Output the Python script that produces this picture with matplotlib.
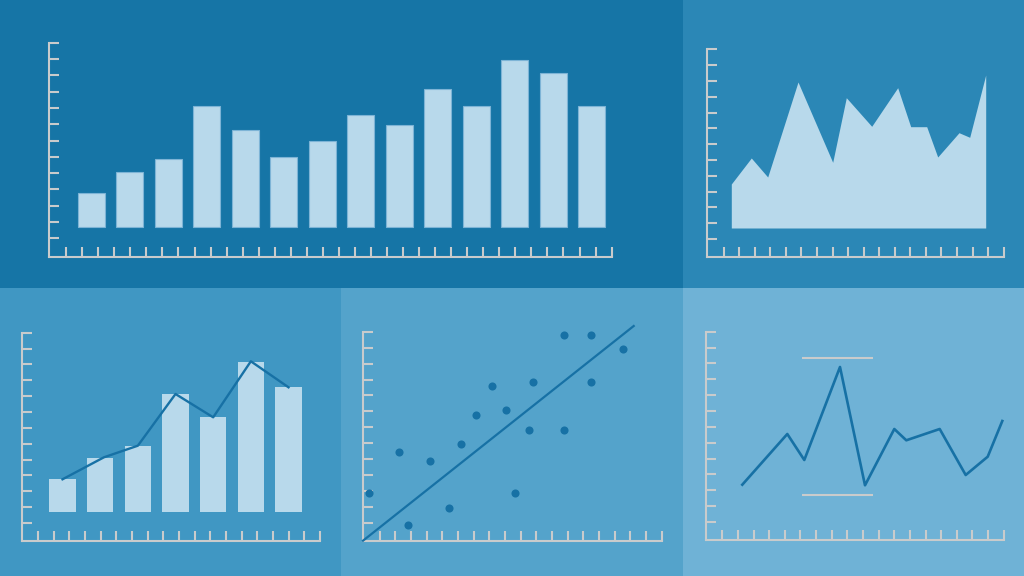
import numpy as np
import matplotlib
matplotlib.use("Agg")
import matplotlib.pyplot as plt
from matplotlib.patches import Rectangle

# ---------------- data ----------------
# top-left bar chart
bar_values = [34, 55.3, 68.3, 121.3, 97.3, 69.7, 85.7, 112.3, 102, 138.3, 121.3, 167, 154.3, 121.3]
# top-right area chart
area_x = [24.3, 44.3, 60.7, 91, 125.7, 139.3, 164.7, 190.7, 203.7, 219.7, 230.7, 252, 262.7, 278.7]
area_y = [44, 70, 51, 146, 65.7, 130.3, 101.7, 140.3, 101.3, 101.3, 71, 95.3, 90.7, 153]
# bottom-left combo chart
combo_bar_values = [33, 53.7, 66, 118, 94.7, 150, 125]
combo_line_pos = [0, 1.1, 2, 3, 4, 5, 6]
combo_line_values = [32.7, 54.7, 66.3, 118, 94.7, 150.7, 124.7]
# bottom-middle scatter
scatter_x = [6, 36.3, 45, 67.3, 86.3, 98.3, 112.7, 128.7, 142.7, 151.7, 166.3, 170.3,
             201.3, 201.3, 228.3, 228.3, 260.3]
scatter_y = [47.4, 88.4, 15.7, 80, 32.7, 97, 126, 154.7, 130.4, 47.7, 110.4, 159,
             206, 110.4, 206, 159, 191.4]
trend_x = [0, 270.7]
trend_y = [0, 214.7]
# bottom-right line chart
line_x = [36.6, 81.6, 98.6, 134.3, 159.3, 188.6, 200.6, 234, 260, 282, 296.6]
line_y = [55.6, 106.3, 80.3, 173.3, 55, 111.3, 100, 111.3, 65.3, 83.6, 119.3]
range_low, range_high = 45.3, 182
range_x = [96.3, 167]

# ---------------- styles ----------------
W, H = 1024, 576
BG = ["#1675a6", "#2b87b6", "#4097c3", "#54a3cb", "#6fb2d6"]
LIGHT = "#b8d9eb"
DARK = "#1771a5"
AX = "#c9cbcc"

fig = plt.figure(figsize=(W / 100, H / 100), dpi=100)


def panel_bg(x0, y0, x1, y1, color):
    fig.patches.append(Rectangle((x0 / W, 1 - y1 / H), (x1 - x0) / W, (y1 - y0) / H,
                                 transform=fig.transFigure, facecolor=color,
                                 edgecolor="none", zorder=-10))


def chart_axes(ox, oy, w, h, yfirst, ny, xfirst, nx):
    ax = fig.add_axes([ox / W, 1 - oy / H, w / W, h / H])
    ax.set_zorder(5)
    ax.set_xlim(0, w)
    ax.set_ylim(0, h)
    ax.patch.set_visible(False)
    for s in ("top", "right"):
        ax.spines[s].set_visible(False)
    for s in ("left", "bottom"):
        ax.spines[s].set_color(AX)
        ax.spines[s].set_linewidth(1.5)
        ax.spines[s].set_capstyle("projecting")
    ax.set_xticks(np.linspace(xfirst, w, nx))
    ax.set_yticks(np.linspace(yfirst, h, ny))
    ax.tick_params(direction="in", length=7.4, width=1.5, color=AX,
                   labelleft=False, labelbottom=False)
    return ax


panel_bg(0, 0, 683, 288, BG[0])
panel_bg(683, 0, 1024, 288, BG[1])
panel_bg(0, 288, 341, 576, BG[2])
panel_bg(341, 288, 683, 576, BG[3])
panel_bg(683, 288, 1024, 576, BG[4])

# panel 1: bars
ax1 = chart_axes(48.8, 256.7, 562.8, 214, 18.4, 13, 17.4, 35)
x1 = 42.2 + 38.5 * np.arange(len(bar_values))
ax1.bar(x1, bar_values, width=27, bottom=29.7, color=LIGHT,
        edgecolor="#7db4d6", linewidth=0.8)

# panel 2: area
ax2 = chart_axes(707, 256.7, 296.7, 207.4, 17.7, 13, 16.7, 19)
base2 = 28.7
ax2.fill_between(area_x, base2, base2 + np.array(area_y), color=LIGHT, linewidth=0)

# panel 3: bars + line
ax3 = chart_axes(21.7, 540.7, 298.3, 208, 17.7, 13, 16.3, 19)
base3 = 28.7
x3 = 40.8 + 37.67 * np.arange(len(combo_bar_values))
ax3.bar(x3, combo_bar_values, width=26.3, bottom=base3, color=LIGHT, linewidth=0)
ax3.plot(40.8 + 37.67 * np.array(combo_line_pos), base3 + np.array(combo_line_values),
         color=DARK, linewidth=1.7, zorder=3)

# panel 4: scatter + trend
ax4 = chart_axes(363, 540.7, 298.7, 209, 17.7, 13, 16.7, 19)
ax4.plot(trend_x, trend_y, color=DARK, linewidth=1.6, clip_on=False, zorder=3)
ax4.scatter(scatter_x, scatter_y, s=34, color=DARK, linewidths=0, clip_on=False, zorder=4)

# panel 5: line with range markers
ax5 = chart_axes(705.7, 540.3, 298, 208.6, 18.3, 13, 16.6, 19)
ax5.hlines([range_high, range_low], range_x[0], range_x[1], color=AX, linewidth=1.5)
ax5.plot(line_x, line_y, color=DARK, linewidth=1.9, clip_on=False, zorder=3)

fig.savefig("out.png", dpi=100)
